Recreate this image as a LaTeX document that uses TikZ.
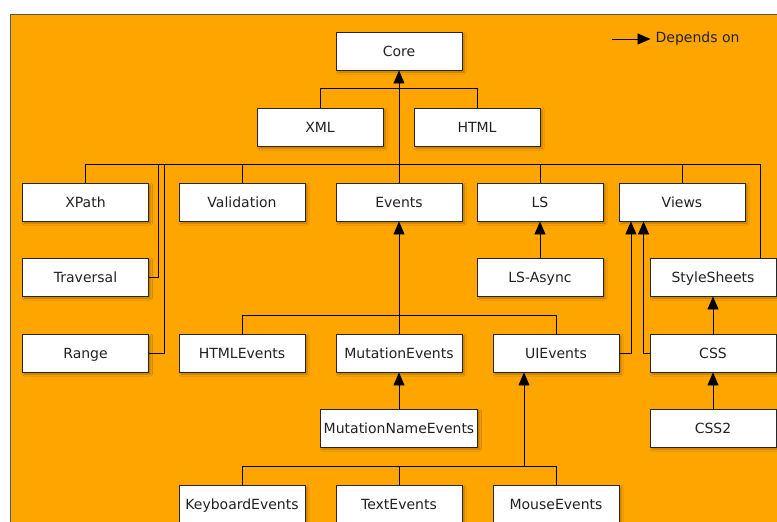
\documentclass[tikz,border=0pt]{standalone}
\usepackage{fontspec}
\setmainfont{DejaVu Sans}
\usetikzlibrary{arrows.meta,shadows.blur,calc}
\definecolor{panel}{HTML}{FFA500}
\definecolor{panelrim}{HTML}{555555}
\definecolor{boxtext}{HTML}{222222}
\tikzset{
  module/.style={draw=black!85, line width=0.9pt, fill=white, minimum width=126pt,
    minimum height=38pt, inner sep=0pt, text=boxtext,
    text height=10.2pt, text depth=0pt,
    font=\fontsize{14}{16}\selectfont,
    blur shadow={shadow xshift=2pt, shadow yshift=-2pt, shadow blur radius=2pt,
      shadow opacity=30}},
  link/.style={draw=black, line width=0.9pt},
  dep/.style={link, -{Triangle[length=13pt,width=11pt]}},
}
\begin{document}
\begin{tikzpicture}[x=1pt,y=-1pt]
\useasboundingbox (0,0) rectangle (777,522);
\clip (0,0) rectangle (777,522);
\fill[white] (0,0) rectangle (777,522);
\filldraw[fill=panel, draw=panelrim, line width=1pt] (10,14) rectangle (800,560);

% modules
\node[module] (core) at (399,51) {Core};
\node[module] (xml) at (320,127) {XML};
\node[module] (html) at (477,127) {HTML};

\node[module] (xpath) at (85.5,202) {XPath};
\node[module] (validation) at (242,202) {Validation};
\node[module] (events) at (399,202) {Events};
\node[module] (ls) at (540,202) {LS};
\node[module] (views) at (682,202) {Views};

\node[module] (traversal) at (85.5,277) {Traversal};
\node[module] (lsasync) at (540,277) {LS-Async};
\node[module] (stylesheets) at (713,277) {StyleSheets};

\node[module] (range) at (85.5,353) {Range};
\node[module] (htmlevents) at (242,353) {HTMLEvents};
\node[module] (mutationevents) at (399,353) {MutationEvents};
\node[module] (uievents) at (556,353) {UIEvents};
\node[module] (css) at (713,353) {CSS};

\node[module, minimum width=157pt] (mutationname) at (399,428) {MutationNameEvents};
\node[module] (css2) at (713,428) {CSS2};

\node[module] (keyboard) at (242,504) {KeyboardEvents};
\node[module] (textevents) at (399,504) {TextEvents};
\node[module] (mouse) at (556,504) {MouseEvents};

% bus lines
\coordinate (corebus) at (0,164);
\coordinate (eventbus) at (0,315);
\coordinate (uibus) at (0,466);

% dependencies on Core
\draw[dep] (events.north) -- (core.south);
\draw[link] (xml.north) -- ++(0,-19) -| (html.north);
\draw[link] (xpath.north) -- (xpath.north |- corebus)
  -- ([xshift=-16pt]stylesheets.north east |- corebus)
  -- ([xshift=-16pt]stylesheets.north east);
\draw[link] (validation.north) -- (validation.north |- corebus);
\draw[link] (ls.north) -- (ls.north |- corebus);
\draw[link] (views.north) -- (views.north |- corebus);
\draw[link] (traversal.east) -- ++(9,0) coordinate (tv) -- (tv |- corebus);
\draw[link] (range.east) -- ++(15.5,0) coordinate (rg) -- (rg |- corebus);

% dependencies on Events
\draw[link] (htmlevents.north) -- (htmlevents.north |- eventbus)
  -- (uievents.north |- eventbus) -- (uievents.north);
\draw[dep] (mutationevents.north) -- (events.south);

% other dependencies
\draw[dep] (lsasync.north) -- (ls.south);
\draw[dep] (uievents.east) -- ++(11.5,0) coordinate (uv) -- (uv |- views.south);
\draw[dep] (css.west) -- ++(-6,0) coordinate (cv) -- (cv |- views.south);
\draw[dep] (css.north) -- (stylesheets.south);
\draw[dep] (css2.north) -- (css.south);
\draw[dep] (mutationname.north) -- (mutationevents.south);

% dependencies on UIEvents
\draw[link] (keyboard.north) -- (keyboard.north |- uibus)
  -- (mouse.north |- uibus) -- (mouse.north);
\draw[link] (textevents.north) -- (textevents.north |- uibus);
\draw[dep] ([xshift=-32pt]uievents.south |- uibus) -- ([xshift=-32pt]uievents.south);

% legend
\coordinate (legendstart) at (612,39);
\draw[dep] (legendstart) -- ++(38.5,0) coordinate (legendtip);
\node[anchor=west, inner sep=0pt, xshift=5pt, text=boxtext,
  font=\fontsize{14}{16}\selectfont] (legend) at (legendtip) {Depends on};
\end{tikzpicture}
\end{document}
